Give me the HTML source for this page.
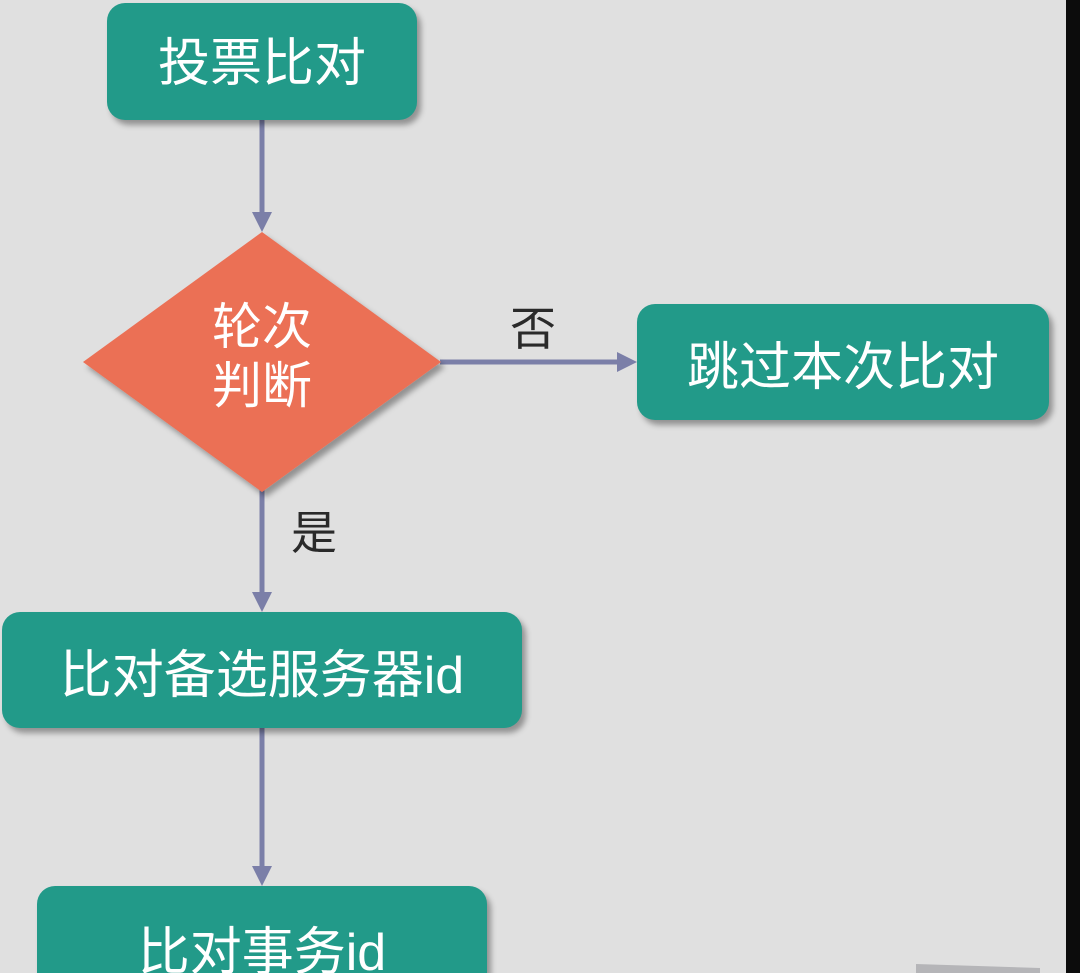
<!DOCTYPE html>
<html style="overflow:hidden;width:1080px;height:973px"><head><meta charset="utf-8"><style>
html,body{margin:0;padding:0}
body{width:1080px;height:973px;background:#e0e0e0;position:relative;overflow:hidden;font-family:"Liberation Sans","Noto Sans CJK SC",sans-serif}
.box{position:absolute;background:#229a89;border-radius:18px;color:#fff;display:flex;align-items:center;justify-content:center;box-shadow:4px 5px 6px rgba(0,0,0,0.35);font-size:52px;font-weight:400}
.lbl{position:absolute;color:#2a2a2a;font-size:46px;font-weight:400;line-height:1}
</style></head><body>
<svg width="1080" height="973" style="position:absolute;left:0;top:0">
<defs><filter id="s" x="-20%" y="-20%" width="140%" height="140%"><feDropShadow dx="4" dy="5" stdDeviation="3" flood-opacity="0.35"/></filter></defs>
<g fill="#7b7fa8" stroke="#7b7fa8">
<line x1="262" y1="120" x2="262" y2="215" stroke-width="5"/>
<polygon points="252,212 272,212 262,232" stroke="none"/>
<line x1="440" y1="362" x2="620" y2="362" stroke-width="5"/>
<polygon points="617,352 617,372 637,362" stroke="none"/>
<line x1="262" y1="490" x2="262" y2="595" stroke-width="5"/>
<polygon points="252,592 272,592 262,612" stroke="none"/>
<line x1="262" y1="728" x2="262" y2="870" stroke-width="5"/>
<polygon points="252,866 272,866 262,886" stroke="none"/>
</g>
<polygon points="262,232 441,362 262,492 83,362" fill="#eb6f55" filter="url(#s)"/>
<polygon points="916,964 1040,968 1040,973 916,973" fill="#b5b5b8"/>
<rect x="1066" y="0" width="14" height="973" fill="#0c0c0c"/>
</svg>
<div class="box" style="left:107px;top:3px;width:310px;height:117px;padding-bottom:6px;box-sizing:border-box">投票比对</div>
<div class="box" style="left:637px;top:304px;width:412px;height:116px">跳过本次比对</div>
<div class="box" style="left:2px;top:612px;width:520px;height:116px">比对备选服务器id</div>
<div class="box" style="left:37px;top:886px;width:450px;height:87px;border-bottom-left-radius:0;border-bottom-right-radius:0;align-items:flex-start;padding-top:24px;box-sizing:border-box">比对事务id</div>
<div style="position:absolute;left:187px;top:298px;width:150px;text-align:center;color:#fff;font-size:50px;line-height:59px;font-weight:400">轮次<br>判断</div>
<div class="lbl" style="left:510px;top:306px">否</div>
<div class="lbl" style="left:291px;top:510px">是</div>
</body></html>
